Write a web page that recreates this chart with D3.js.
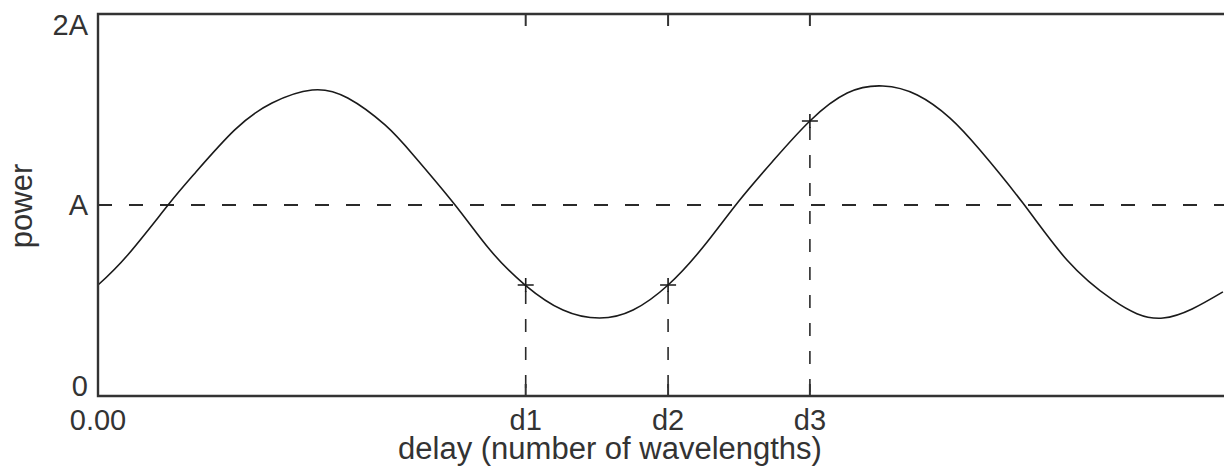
<!DOCTYPE html>
<html>
<head>
  <meta charset="utf8">
  <title>power vs delay</title>
  <style type="text/css">
    body { margin: 0; background: #fff; }
    text { font-family: "Liberation Sans", Arial, sans-serif; fill: #333; }
  </style>
</head>
<body>
<script src="https://cdnjs.cloudflare.com/ajax/libs/d3/7.8.5/d3.min.js"></script>
<script type="text/javascript">
var width = 1224, height = 470;

// curve: delay in wavelengths, power in units of A
var delay = [0.000, 0.053, 0.124, 0.172, 0.242, 0.308, 0.379, 0.442, 0.508, 0.558,
             0.632, 0.694, 0.756, 0.823, 0.888, 0.947, 1.009, 1.071, 1.133, 1.195,
             1.260, 1.326, 1.389, 1.450, 1.508, 1.561, 1.637, 1.715, 1.796, 1.885, 1.991];
var power = [0.581, 0.740, 1.000, 1.168, 1.393, 1.534, 1.602, 1.560, 1.419, 1.262,
             1.000, 0.764, 0.581, 0.450, 0.408, 0.450, 0.581, 0.780, 1.016, 1.232,
             1.440, 1.586, 1.623, 1.576, 1.455, 1.288, 1.010, 0.712, 0.503, 0.408, 0.545];

// marked delays and the power at each
var markNames = ['d1', 'd2', 'd3'];
var markDelay = [0.757, 1.009, 1.260];
var markPower = [0.581, 0.581, 1.440];

var yTickValues = [0, 1, 2];
var yTickLabels = ['0', 'A', '2A'];
var xTickValues = [0].concat(markDelay);
var xTickLabels = ['0.00'].concat(markNames);

// plot box (right edge falls just past the window)
var pL = 98, pR = 1228, pT = 14, pB = 396;

var x = d3.scaleLinear().domain([0, 2]).range([pL, pR]);
var y = d3.scaleLinear().domain([0, 2]).range([pB, pT]);

var svg = d3.select('body').append('svg')
    .attr('width', width)
    .attr('height', height);

var ink = '#2a2a2a';

// reference line at A
svg.append('line')
  .attr('x1', pL).attr('x2', pR)
  .attr('y1', y(1)).attr('y2', y(1))
  .attr('stroke', ink)
  .attr('stroke-width', 2)
  .attr('stroke-dasharray', '14 17');

// drop lines under the marks
svg.selectAll('.drop').data(markDelay).enter().append('line')
  .attr('class', 'drop')
  .attr('x1', function(d) { return x(d) })
  .attr('x2', function(d) { return x(d) })
  .attr('y1', function(d, i) { return y(markPower[i]) + 6 })
  .attr('y2', pB)
  .attr('stroke', ink)
  .attr('stroke-width', 1.6)
  .attr('stroke-dasharray', '13 15');

// the curve
var line = d3.line()
  .x(function(d) { return x(d[0]) })
  .y(function(d) { return y(d[1]) })
  .curve(d3.curveNatural);

svg.append('path')
  .datum(d3.zip(delay, power))
  .attr('d', line)
  .attr('fill', 'none')
  .attr('stroke', '#1a1a1a')
  .attr('stroke-width', 1.6);

// crosses on the marks
svg.selectAll('.mark').data(markDelay).enter().append('path')
  .attr('class', 'mark')
  .attr('transform', function(d, i) { return 'translate(' + x(d) + ',' + y(markPower[i]) + ')' })
  .attr('d', 'M-8,0H8M0,-7V7')
  .attr('stroke', '#1a1a1a')
  .attr('stroke-width', 1.6);

// frame: left, bottom, top
svg.append('path')
  .attr('d', 'M' + pR + ',' + pT + 'H' + pL + 'V' + pB + 'H' + pR)
  .attr('fill', 'none')
  .attr('stroke', '#333')
  .attr('stroke-width', 2.4);

// inner ticks at the marks, top and bottom
svg.selectAll('.ttick').data(markDelay).enter().append('line')
  .attr('class', 'ttick')
  .attr('x1', function(d) { return x(d) }).attr('x2', function(d) { return x(d) })
  .attr('y1', pT).attr('y2', pT + 12)
  .attr('stroke', '#333').attr('stroke-width', 2);
svg.selectAll('.btick').data(markDelay).enter().append('line')
  .attr('class', 'btick')
  .attr('x1', function(d) { return x(d) }).attr('x2', function(d) { return x(d) })
  .attr('y1', pB - 12).attr('y2', pB)
  .attr('stroke', '#333').attr('stroke-width', 2);

// y labels, kept inside the frame at the ends
svg.selectAll('.ylab').data(yTickValues).enter().append('text')
  .attr('class', 'ylab')
  .attr('x', pL - 10)
  .attr('y', function(d) { return Math.min(Math.max(y(d), pT + 11), pB - 10) })
  .attr('dy', '0.36em')
  .attr('text-anchor', 'end')
  .style('font-size', '29px')
  .text(function(d, i) { return yTickLabels[i] });

// x labels
svg.selectAll('.xlab').data(xTickValues).enter().append('text')
  .attr('class', 'xlab')
  .attr('x', function(d) { return x(d) })
  .attr('y', 430)
  .attr('text-anchor', 'middle')
  .style('font-size', '29px')
  .text(function(d, i) { return xTickLabels[i] });

svg.append('text')
  .attr('x', 610)
  .attr('y', 459)
  .attr('text-anchor', 'middle')
  .style('font-size', '31px')
  .text('delay (number of wavelengths)');

svg.append('text')
  .attr('transform', 'translate(32,206) rotate(-90)')
  .attr('text-anchor', 'middle')
  .style('font-size', '31px')
  .text('power');
</script>
</body>
</html>
